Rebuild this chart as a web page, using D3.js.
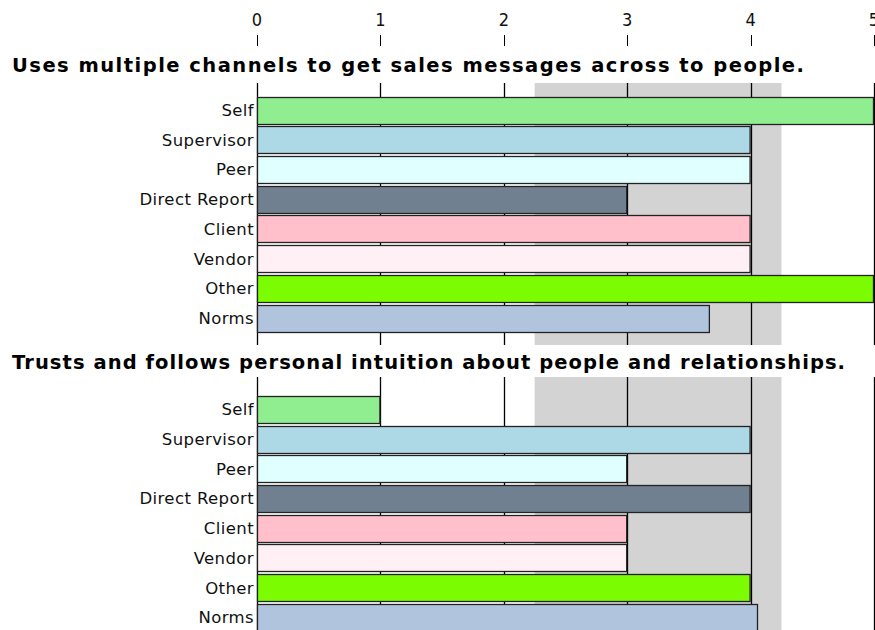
<!DOCTYPE html>
<html>
<head>
<meta charset="utf-8">
<script src="https://cdn.jsdelivr.net/npm/d3@7"></script>
<style>
  body { margin: 0; background: #fff; }
</style>
</head>
<body>
<div id="graph"></div>
<script>
//data
let categories = ["Self","Supervisor","Peer","Direct Report","Client","Vendor","Other","Norms"];
let questions = ["Uses multiple channels to get sales messages across to people.",
                 "Trusts and follows personal intuition about people and relationships."];
let scores1 = [5, 4, 4, 3, 4, 4, 5, 3.67];
let scores2 = [1, 4, 3, 4, 3, 3, 4, 4.06];
let bandLow = [2.25, 2.25];
let bandHigh = [4.25, 4.25];
let ticks = [0, 1, 2, 3, 4, 5];

let colorRange = ["#90EE90","#ADD8E6","#E0FFFF","#708090","#FFC0CB","#FFF0F5","#7CFC00","#B0C4DE"];

let w = 875;
let h = 630;

let svg = d3.select("#graph")
              .append("svg")
                .attr("width", w)
                .attr("height", h)
;

let x = d3.scaleLinear().domain([0,5]).range([257,874]);
let color = d3.scaleOrdinal().domain(categories).range(colorRange);

// section layout: title baseline, grid top, grid bottom, first bar top
let sections = [
  {title: questions[0], values: scores1, lo: bandLow[0], hi: bandHigh[0], titleY: 72, gridTop: 83, gridBottom: 345, barTop: 95.2, titleEnd: 804},
  {title: questions[1], values: scores2, lo: bandLow[1], hi: bandHigh[1], titleY: 369, gridTop: 377, gridBottom: 640, barTop: 394.5, titleEnd: 845}
];

//top axis: labels and small ticks
let axis = svg.append("g");
axis.selectAll("text").data(ticks).enter()
      .append("text")
        .attr("x", d => x(d))
        .attr("y", 26)
        .attr("text-anchor", "middle")
        .attr("font-family", "DejaVu Sans Condensed, DejaVu Sans")
        .attr("font-size", 18)
        .attr("fill", "#111")
        .text(d => d)
;
axis.selectAll("line").data(ticks).enter()
      .append("line")
        .attr("x1", d => Math.round(x(d)) + 0.5)
        .attr("x2", d => Math.round(x(d)) + 0.5)
        .attr("y1", 35)
        .attr("y2", 46)
        .attr("stroke", "#000")
;

sections.forEach(function(s){
  let g = svg.append("g");

  let y = d3.scaleBand()
              .domain(categories)
              .range([s.barTop, s.barTop + 237.6])
              .paddingInner(0.1)
              .paddingOuter(0.05)
  ;

  //gray norm band
  g.append("rect")
      .attr("x", x(s.lo))
      .attr("y", s.gridTop)
      .attr("width", x(s.hi) - x(s.lo))
      .attr("height", s.gridBottom - s.gridTop)
      .attr("fill", "#D3D3D3")
  ;

  //vertical grid lines incl. y axis
  g.selectAll("grid").data(ticks).enter()
      .append("line")
        .attr("x1", d => Math.round(x(d)) + 0.5)
        .attr("x2", d => Math.round(x(d)) + 0.5)
        .attr("y1", s.gridTop)
        .attr("y2", s.gridBottom)
        .attr("stroke", "#000")
        .attr("stroke-width", 1.3)
  ;

  //bars
  g.selectAll("bars").data(s.values).enter()
      .append("rect")
        .attr("x", x(0) + 0.5)
        .attr("y", (d,i) => Math.round(y(categories[i])) + 0.5)
        .attr("width", d => x(d) - x(0) - 1)
        .attr("height", Math.round(y.bandwidth()))
        .attr("fill", (d,i) => color(categories[i]))
        .attr("stroke", "#222")
        .attr("stroke-width", 1.3)
  ;

  //category labels
  g.selectAll("labels").data(categories).enter()
      .append("text")
        .attr("x", 254)
        .attr("y", d => y(d) + y.bandwidth()/2 + 6)
        .attr("text-anchor", "end")
        .attr("font-family", "DejaVu Sans")
        .attr("font-size", 16.5)
        .attr("letter-spacing", 0.4)
        .attr("fill", "#111")
        .text(d => d)
  ;

  //question title
  g.append("text")
      .attr("x", 12)
      .attr("y", s.titleY)
      .attr("font-family", "DejaVu Sans")
      .attr("font-weight", "bold")
      .attr("font-size", 19.5)
      .attr("textLength", s.titleEnd - 12)
      .attr("lengthAdjust", "spacing")
      .attr("fill", "#000")
      .text(s.title)
  ;
});
</script>
</body>
</html>
